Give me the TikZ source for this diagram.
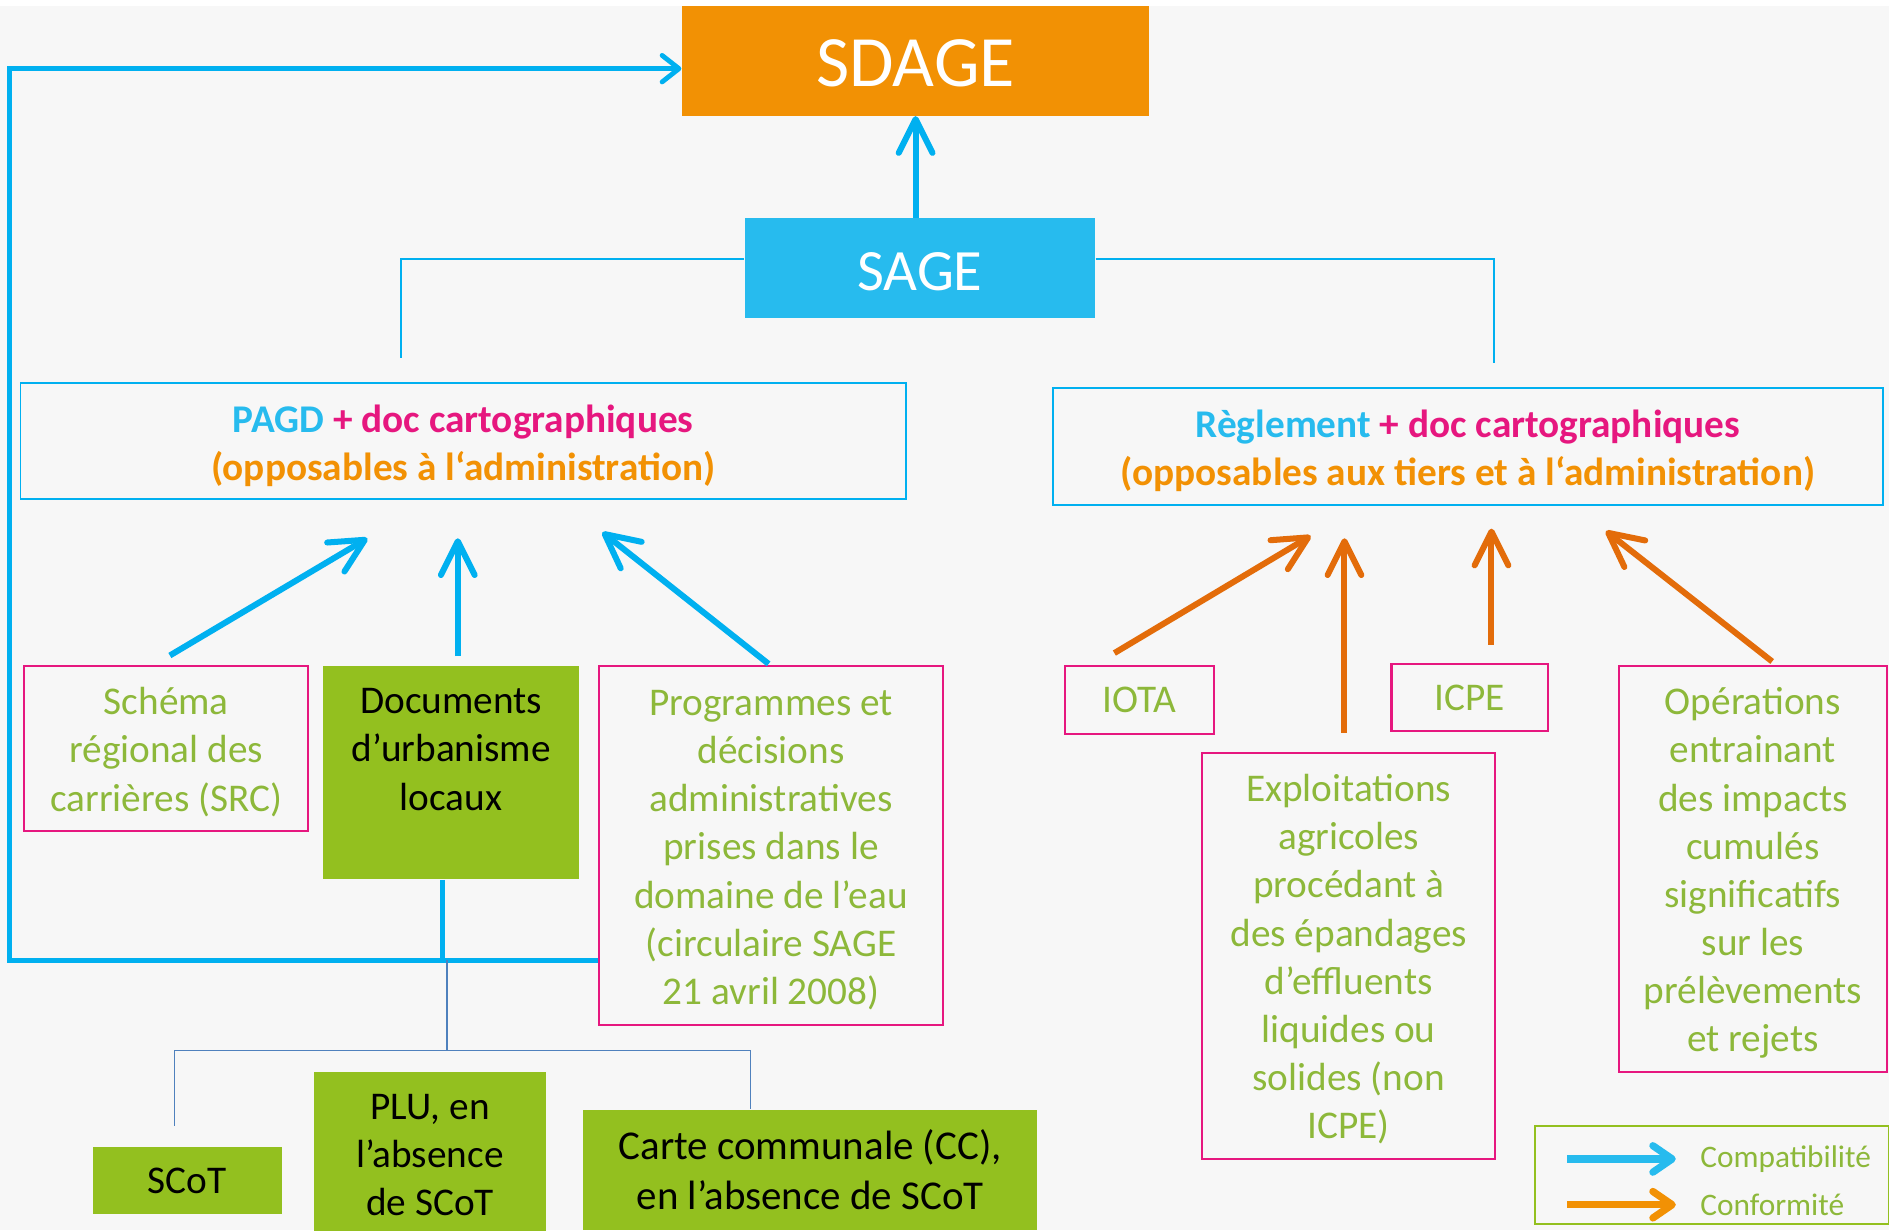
\documentclass[tikz,border=0pt]{standalone}
\usepackage{fontspec}
\setmainfont{Carlito}
\usetikzlibrary{arrows.meta}

\definecolor{sdageorange}{HTML}{F29104}
\definecolor{sagecyan}{HTML}{27BBEE}
\definecolor{arrowblue}{HTML}{00B0F0}
\definecolor{arroworange}{HTML}{E36C0A}
\definecolor{docpink}{HTML}{E6177F}
\definecolor{leafgreen}{HTML}{93C01F}
\definecolor{textgreen}{HTML}{8DB83A}
\definecolor{treeblue}{HTML}{4F81BD}
\definecolor{bggray}{HTML}{F7F7F7}

\newcommand{\padtop}[1]{\rule{0pt}{#1}}

\begin{document}
\begin{tikzpicture}[x=0.5pt,y=-0.5pt,
    pinkbox/.style={draw=docpink,line width=0.9pt,text=textgreen,align=center,inner sep=0pt,font=\fontsize{16.3}{20}\selectfont},
    greenbox/.style={fill=leafgreen,text=black,align=center,inner sep=0pt,font=\fontsize{16.3}{20}\selectfont},
    bluebox/.style={draw=arrowblue,line width=0.8pt,align=center,inner sep=0pt,font=\bfseries\fontsize{16.3}{20}\selectfont},
    compat/.style={draw=arrowblue,line width=2.5pt,-{Straight Barb[round,length=14pt,width=14pt]}},
    conform/.style={draw=arroworange,line width=2.5pt,-{Straight Barb[round,length=14pt,width=14pt]}},
    linkline/.style={draw=arrowblue,line width=0.8pt},
    tree/.style={draw=treeblue,line width=0.6pt},
    legtext/.style={text=textgreen,anchor=west,inner sep=0pt,font=\fontsize{13}{15}\selectfont}]
  \useasboundingbox (0,0) rectangle (1568,1021);
  \clip (0,0) rectangle (1568,1021);
  \fill[white] (0,0) rectangle (1568,1021);
  \fill[bggray] (0,5) rectangle (1568,1021);

  \node[fill=sdageorange,text=white,minimum width=194pt,minimum height=45.5pt,text height=21.3pt,font=\fontsize{30}{36}\selectfont] (sdage) at (760,50.5) {SDAGE};
  \node[fill=sagecyan,text=white,minimum width=145.5pt,minimum height=41.5pt,text height=18.6pt,font=\fontsize{24.3}{29}\selectfont] (sage) at (763.5,222.5) {SAGE};

  \node[bluebox,minimum width=367.5pt,minimum height=48pt] (pagd) at (384.5,366) {\padtop{15.4pt}\textcolor{sagecyan}{PAGD} \textcolor{docpink}{+ doc cartographiques}\\\textcolor{sdageorange}{(opposables à l‘administration)}};
  \node[bluebox,minimum width=344.5pt,minimum height=48.5pt] (regl) at (1218.5,370.5) {\padtop{15.4pt}\textcolor{sagecyan}{Règlement} \textcolor{docpink}{+ doc cartographiques}\\\textcolor{sdageorange}{(opposables aux tiers et à l‘administration)}};

  \node[pinkbox,minimum width=118pt,minimum height=68.5pt] (src) at (138,621.5) {\padtop{14pt}Schéma\\régional des\\carrières (SRC)};
  \node[greenbox,minimum width=106.5pt,minimum height=88.5pt] (docs) at (374.5,641.5) {Documents\\d’urbanisme\\locaux\\[-6.5pt]\strut};
  \node[pinkbox,minimum width=143pt,minimum height=149pt] (prog) at (640,702) {\padtop{14pt}Programmes et\\décisions\\administratives\\prises dans le\\domaine de l’eau\\(circulaire SAGE\\21 avril 2008)};

  \node[pinkbox,minimum width=62pt,minimum height=28pt] (iota) at (946,581) {IOTA};
  \node[pinkbox,minimum width=65pt,minimum height=28pt] (icpe) at (1220,579) {ICPE};
  \node[pinkbox,minimum width=121.5pt,minimum height=168.5pt] (expl) at (1119.5,793.5) {\padtop{14pt}Exploitations\\agricoles\\procédant à\\des épandages\\d’effluents\\liquides ou\\solides (non\\ICPE)};
  \node[pinkbox,minimum width=111pt,minimum height=168.5pt] (oper) at (1455,721.5) {\padtop{14.5pt}Opérations\\entrainant\\des impacts\\cumulés\\significatifs\\sur les\\prélèvements\\et rejets};

  \node[greenbox,minimum width=78.5pt,minimum height=28pt] (scot) at (155.5,980) {SCoT};
  \node[greenbox,minimum width=96pt,minimum height=69pt] (plu) at (357,959) {PLU, en\\l’absence\\de SCoT};
  \node[greenbox,minimum width=188.5pt,minimum height=50pt,font=\fontsize{17}{21}\selectfont] (carte) at (672.5,971) {Carte communale (CC),\\en l’absence de SCoT};

  \node[draw=leafgreen,line width=0.8pt,minimum width=147pt,minimum height=40.5pt] (legend) at (1421,975.5) {};
  \node[legtext] (lcomp) at (1411,962) {Compatibilité};
  \node[legtext] (lconf) at (1411,1000) {Conformité};

  \coordinate (hub) at (367,797);
  \coordinate (corner) at (8,57);
  \coordinate (pagdtop) at (333,297);
  \coordinate (regltop) at (1240,301);
  \coordinate (fork) at (371,872);

  \draw[compat] (sdage.south |- sage.north) -- (sdage.south);
  \draw[linkline] ([yshift=3.75pt]sage.west) -| (pagdtop);
  \draw[linkline] ([yshift=3.75pt]sage.east) -| (regltop);

  \draw[compat] ([xshift=1.5pt,yshift=4pt]src.north) -- ([xshift=-39.75pt,yshift=-16pt]pagd.south);
  \draw[compat] ([xshift=2.75pt,yshift=4pt]docs.north) -- ([xshift=-2.25pt,yshift=-16pt]pagd.south);
  \draw[compat] ([xshift=-1pt,yshift=0.5pt]prog.north) -- ([xshift=57.75pt,yshift=-13.5pt]pagd.south);

  \draw[conform] ([xshift=-10.5pt,yshift=5pt]iota.north) -- ([xshift=-65.25pt,yshift=-12.5pt]regl.south);
  \draw[conform] ([xshift=-1.75pt,yshift=8pt]expl.north) -- ([xshift=-51.25pt,yshift=-13.5pt]regl.south);
  \draw[conform] ([xshift=9pt,yshift=7.5pt]icpe.north) -- ([xshift=9.75pt,yshift=-9.5pt]regl.south);
  \draw[conform] ([xshift=8pt,yshift=1.5pt]oper.north) -- ([xshift=57.25pt,yshift=-10.5pt]regl.south);

  \draw[draw=arrowblue,line width=2pt] ([xshift=-3.75pt]docs.south) -- (hub);
  \draw[draw=arrowblue,line width=2pt,-{Straight Barb[round,length=7pt,width=11pt]}] (prog.west |- hub) -| (corner) -- ([yshift=-3.25pt]sdage.west);

  \draw[tree] (hub -| fork) -- (fork);
  \draw[tree] ([xshift=-5.25pt,yshift=8.5pt]scot.north) |- (fork) -| ([xshift=-24.75pt]carte.north);

  \draw[draw=sagecyan,line width=3pt,-{Straight Barb[round,length=8pt,width=11pt]}] ([xshift=-55pt]lcomp.west) -- ([xshift=-10pt]lcomp.west);
  \draw[draw=sdageorange,line width=3pt,-{Straight Barb[round,length=8pt,width=11pt]}] ([xshift=-55pt]lconf.west) -- ([xshift=-10pt]lconf.west);
\end{tikzpicture}
\end{document}
